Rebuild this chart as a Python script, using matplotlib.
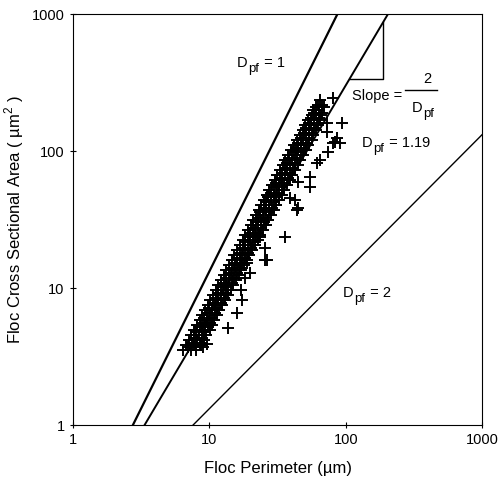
import numpy as np
import matplotlib
matplotlib.use("Agg")
import matplotlib.pyplot as plt

plt.rcParams['font.family'] = ['Liberation Sans', 'DejaVu Sans']
plt.rcParams['mathtext.fontset'] = 'custom'
plt.rcParams['mathtext.rm'] = 'Liberation Sans'

# floc perimeter (um) and cross sectional area (um^2)
# main band
perimeter = [
    6.4, 7.3, 8.0, 6.7, 7.7, 8.7, 7.1, 8.1, 9.1, 7.3, 8.4, 9.5,
    7.7, 8.8, 10.1, 8.1, 9.3, 10.4, 8.6, 9.6, 10.8, 8.8, 10.1, 11.4,
    9.3, 10.4, 11.8, 9.8, 11.0, 12.4, 10.1, 11.6, 13.0, 10.6, 12.2, 13.7,
    11.2, 12.6, 14.4, 11.6, 13.2, 14.9, 12.2, 14.0, 15.7, 12.8, 14.5, 16.5,
    13.2, 15.2, 17.1, 14.0, 16.0, 18.0, 14.7, 16.8, 18.9, 15.2, 17.4, 19.6,
    16.0, 18.3, 20.6, 16.8, 19.3, 21.6, 17.7, 19.9, 22.8, 18.3, 21.0, 23.6,
    19.3, 21.6, 24.8, 20.3, 22.8, 26.0, 20.9, 24.0, 27.0, 22.0, 24.8, 28.3,
    23.2, 26.0, 29.8, 24.0, 27.4, 30.8, 25.2, 28.3, 32.4, 26.5, 29.8, 34.1,
    27.4, 31.3, 35.3, 28.8, 32.4, 37.1, 30.3, 34.1, 39.1, 31.3, 35.9, 40.4,
    33.0, 37.1, 42.5, 34.7, 39.1, 44.8, 35.9, 40.4, 46.3, 37.8, 42.5, 48.7,
    39.8, 44.8, 51.2, 41.8, 47.1, 52.9, 44.0, 48.7, 56.4, 46.3, 51.2, 57.7,
    48.7, 53.8, 60.8, 50.4, 55.7, 62.6, 52.9, 58.7, 64.9, 56.4, 60.8, 66.0,
    57.7, 63.7, 62.6, 67.0, 64.9,
]
area = [
    3.53, 3.53, 3.53, 3.84, 3.84, 3.84, 4.17, 4.17, 4.17, 4.54, 4.54, 4.54,
    4.94, 4.94, 4.94, 5.37, 5.37, 5.37, 5.84, 5.84, 5.84, 6.35, 6.35, 6.35,
    6.91, 6.91, 6.91, 7.51, 7.51, 7.51, 8.17, 8.17, 8.17, 8.89, 8.89, 8.89,
    9.67, 9.67, 9.67, 10.5, 10.5, 10.5, 11.4, 11.4, 11.4, 12.4, 12.4, 12.4,
    13.5, 13.5, 13.5, 14.7, 14.7, 14.7, 16.0, 16.0, 16.0, 17.4, 17.4, 17.4,
    18.9, 18.9, 18.9, 20.6, 20.6, 20.6, 22.4, 22.4, 22.4, 24.4, 24.4, 24.4,
    26.5, 26.5, 26.5, 28.8, 28.8, 28.8, 31.4, 31.4, 31.4, 34.1, 34.1, 34.1,
    37.1, 37.1, 37.1, 40.3, 40.3, 40.3, 43.9, 43.9, 43.9, 47.7, 47.7, 47.7,
    51.9, 51.9, 51.9, 56.5, 56.5, 56.5, 61.4, 61.4, 61.4, 66.8, 66.8, 66.8,
    72.6, 72.6, 72.6, 79.0, 79.0, 79.0, 85.9, 85.9, 85.9, 93.5, 93.5, 93.5,
    102, 102, 102, 111, 111, 111, 120, 120, 120, 131, 131, 131,
    142, 142, 142, 155, 155, 155, 168, 168, 168, 183, 183, 183,
    199, 199, 217, 217, 236,
]
# extra floc in between the rows of the band
area_mid = [
    3.68, 4.0, 4.35, 4.74, 5.15, 5.6, 6.09, 6.62, 7.2, 7.83, 8.52, 9.27,
    10.1, 10.9, 11.9, 12.9, 14.1, 15.3, 16.7, 18.1, 19.7, 21.5, 23.4, 25.4,
    27.6, 30.1, 32.7, 35.6, 38.7, 42.1, 45.8, 49.8, 54.2, 58.9, 64.0, 69.6,
    75.7, 82.4, 89.6, 97.7, 106, 115, 125, 136, 148, 161, 175, 191, 208,
]
perimeter_mid_left = [
    7.0, 7.4, 7.7, 8.0, 8.5, 8.8, 9.2, 9.6, 10.0, 10.6, 11.1, 11.6,
    12.1, 12.7, 13.3, 13.9, 14.6, 15.3, 16.0, 16.7, 17.6, 18.3, 19.1, 19.9,
    20.8, 21.9, 22.8, 23.7, 25.0, 26.0, 27.1, 28.5, 29.8, 31.0, 32.7, 34.1,
    35.6, 37.1, 38.7, 40.8, 42.9, 44.8, 46.7, 49.1, 51.1, 53.5, 55.8, 58.2, 60.3,
]
perimeter_mid_right = [
    8.0, 8.5, 8.8, 9.2, 9.7, 10.1, 10.5, 11.0, 11.4, 12.1, 12.7, 13.3,
    13.8, 14.6, 15.2, 15.9, 16.7, 17.5, 18.3, 19.1, 20.1, 21.0, 21.8, 22.8,
    23.8, 25.0, 26.1, 27.2, 28.6, 29.8, 31.0, 32.6, 34.1, 35.5, 37.5, 39.1,
    40.8, 42.5, 44.3, 46.7, 49.1, 51.3, 53.4, 56.2, 58.5, 61.2, 63.9, 66.6, 69.0,
]
# scattered floc to the right of the band
perimeter_out = [
    94.1, 91.0, 54.8, 54.8, 44.8, 35.9, 25.6, 16.0, 13.7, 18.3,
    17.1, 17.4, 9.0, 9.6, 44.0, 39.1, 26.5, 25.6, 19.9, 18.9,
    23.6, 83.6, 74.3, 64.9, 61.7, 44.8, 42.5, 73.1, 80.8, 86.5,
    80.8, 73.0,
]
area_out = [
    160, 114, 64.6, 54.6, 38.4, 23.6, 16.0, 6.57, 5.11, 11.8,
    9.67, 8.17, 3.71, 3.9, 37.1, 45.4, 16.0, 19.6, 12.9, 15.2,
    23.6, 116, 98.4, 85.9, 81.7, 59.4, 43.9, 138, 244, 124,
    114, 160,
]

# reference lines A = (P / P0) ** (2 / Dpf)
dpf_values = [1.0, 1.19, 2.0]
dpf_p0 = [2.75, 3.35, 7.6]
dpf_lw = [1.6, 1.4, 1.0]

fig = plt.figure(figsize=(4.98, 4.84), dpi=100)
ax = fig.add_axes([0.1466, 0.1219, 0.8214, 0.8491])

p_grid = np.logspace(0, 3, 400)
for d, p0, lw in zip(dpf_values, dpf_p0, dpf_lw):
    ax.plot(p_grid, (p_grid / p0) ** (2.0 / d), color='black', lw=lw)

mk = dict(linestyle='none', marker='+', color='black', markersize=9,
          markeredgewidth=1.4)
ax.plot(perimeter, area, **mk)
ax.plot(perimeter_mid_left, area_mid, **mk)
ax.plot(perimeter_mid_right, area_mid, **mk)
ax.plot(perimeter_out, area_out, **mk)

# slope triangle on the Dpf = 1.19 line
p0, d = dpf_p0[1], dpf_values[1]
px1, px2 = 107, 188
a1 = (px1 / p0) ** (2.0 / d)
a2 = (px2 / p0) ** (2.0 / d)
ax.plot([px1, px2, px2], [a1, a1, a2], color='black', lw=1.0)

ax.set_xscale('log')
ax.set_yscale('log')
ax.set_xlim(1, 1000)
ax.set_ylim(1, 1000)
ax.set_xticks([1, 10, 100, 1000])
ax.set_xticklabels(['1', '10', '100', '1000'])
ax.set_yticks([1, 10, 100, 1000])
ax.set_yticklabels(['1', '10', '100', '1000'])
ax.minorticks_off()
ax.tick_params(direction='inout', length=5, width=0.8, labelsize=10.5)
for s in ax.spines.values():
    s.set_linewidth(0.8)

ax.set_xlabel('Floc Perimeter (\u00b5m)', fontsize=12, labelpad=10)
ax.set_ylabel('Floc Cross Sectional Area ( \u00b5m$^2$ )', fontsize=12,
              labelpad=4)


def dpf_text(x, y, rest='', size=10.5):
    """D with a large pf subscript, then the rest of the label."""
    ax.annotate('D', (x, y), fontsize=size, va='baseline')
    ax.annotate('pf', (x, y), xytext=(0.74 * size, -0.32 * size),
                textcoords='offset points', fontsize=0.9 * size,
                va='baseline')
    if rest:
        ax.annotate(rest, (x, y), xytext=(0.74 * size + 0.9 * 0.9 * size, 0),
                    textcoords='offset points', fontsize=size,
                    va='baseline')


dpf_text(16.0, 410, ' = 1')
dpf_text(132, 107, ' = 1.19')
dpf_text(95.7, 8.6, ' = 2')

ax.text(111, 236, 'Slope =', fontsize=10.5, va='baseline')
ax.text(396, 314, '2', fontsize=10.5, va='baseline', ha='center')
ax.plot([273, 469], [279, 279], color='black', lw=1.0)
dpf_text(307, 193)

fig.savefig('out.png', dpi=100)
